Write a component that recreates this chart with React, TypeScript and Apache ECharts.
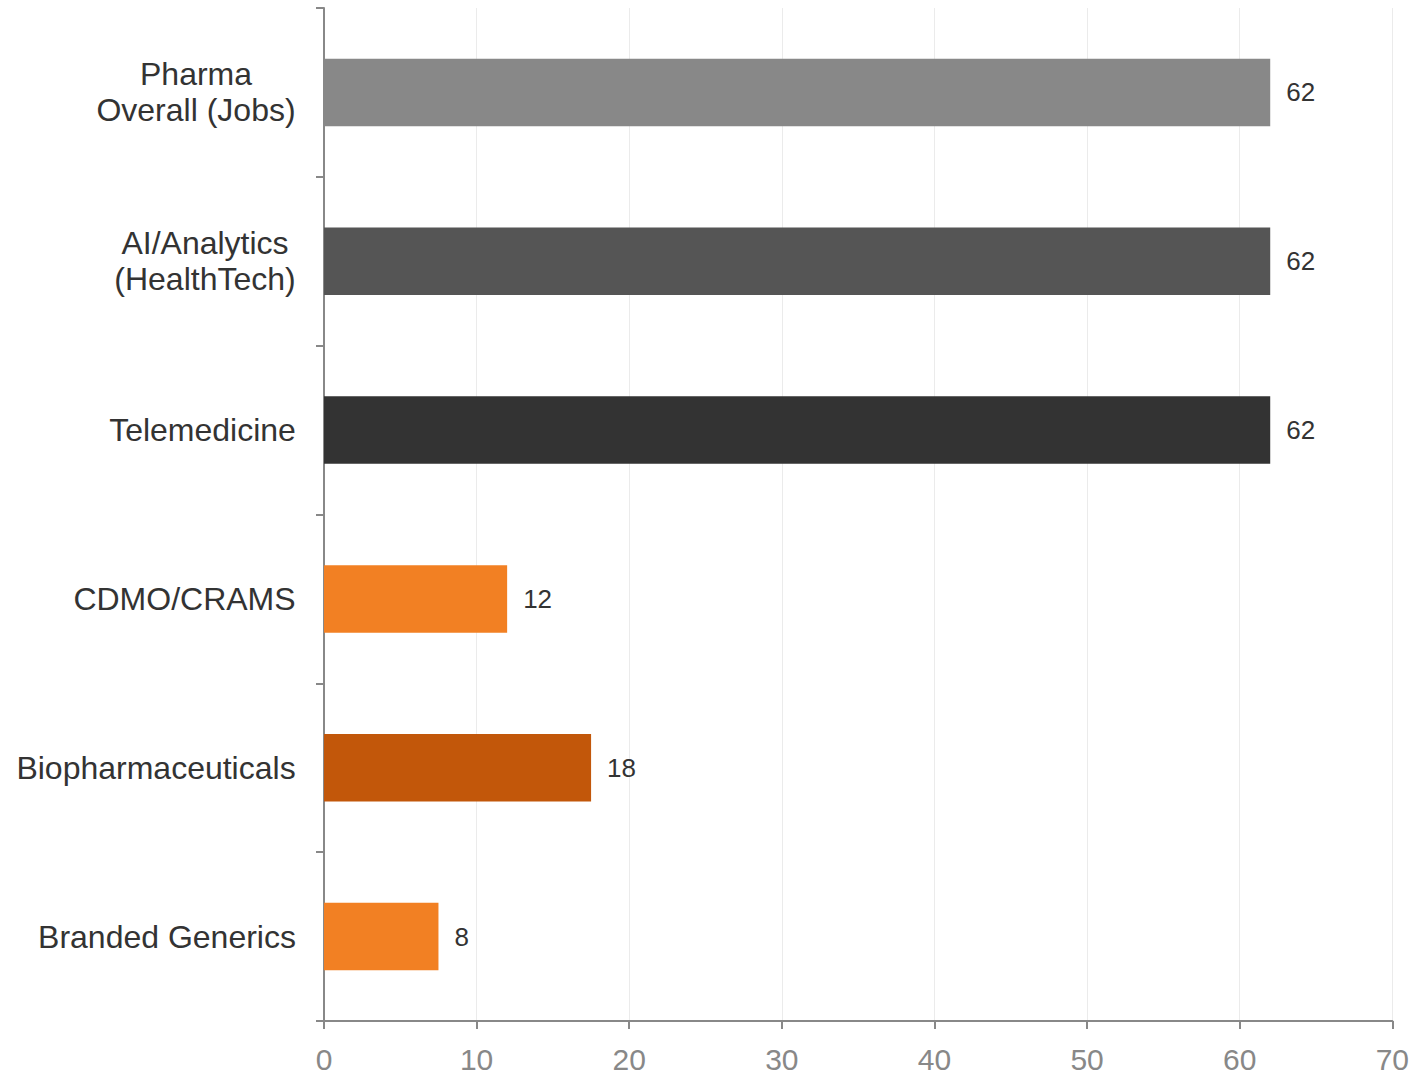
import React, { useEffect, useRef } from "react";
import * as echarts from "echarts";

const categories = [
  "Pharma\nOverall (Jobs)",
  "AI/Analytics\n(HealthTech)",
  "Telemedicine",
  "CDMO/CRAMS",
  "Biopharmaceuticals",
  "Branded Generics",
];
const values = [62, 62, 62, 12, 17.5, 7.5];
const valueLabels = ["62", "62", "62", "12", "18", "8"];
const barColors = ["#888888", "#555555", "#333333", "#F28023", "#C2570A", "#F28023"];
const xTicks = [0, 10, 20, 30, 40, 50, 60, 70];

const FONT = '"Liberation Sans", Arial, Helvetica, sans-serif';
const Y_FONT_SIZE = 32;

function measure(text: string, size: number): number {
  const c = document.createElement("canvas");
  const ctx = c.getContext("2d");
  if (!ctx) return text.length * size * 0.55;
  ctx.font = `${size}px ${FONT}`;
  return ctx.measureText(text).width;
}

export default function App() {
  const ref = useRef<HTMLDivElement>(null);
  useEffect(() => {
    if (!ref.current) return;
    const chart = echarts.init(ref.current, undefined, { renderer: "svg" });

    const rich: Record<string, any> = {};
    const styleNames: string[] = categories.map((c, i) => {
      const lines = c.split("\n");
      const w = Math.ceil(Math.max(...lines.map((l) => measure(l, Y_FONT_SIZE))));
      const name = "c" + i;
      rich[name] = {
        width: w,
        align: "center",
        fontSize: Y_FONT_SIZE,
        fontFamily: FONT,
        color: "#333333",
        lineHeight: 36,
      };
      return name;
    });

    chart.setOption({
      animation: false,
      backgroundColor: "#ffffff",
      grid: { left: 324, right: 19, top: 8, bottom: 53, containLabel: false },
      xAxis: {
        type: "value",
        min: xTicks[0],
        max: xTicks[xTicks.length - 1],
        interval: 10,
        axisLine: { show: true, lineStyle: { color: "#888888", width: 2 } },
        axisTick: { show: true, length: 8, lineStyle: { color: "#888888", width: 2 } },
        axisLabel: { color: "#888888", fontSize: 30, fontFamily: FONT, margin: 23 },
        splitLine: { show: true, lineStyle: { color: "#ebebeb", width: 1 } },
      },
      yAxis: {
        type: "category",
        inverse: true,
        data: categories,
        axisLine: { show: true, lineStyle: { color: "#888888", width: 2 } },
        axisTick: { show: true, length: 8, interval: 0, lineStyle: { color: "#888888", width: 2 } },
        axisLabel: {
          interval: 0,
          margin: 28,
          fontSize: Y_FONT_SIZE,
          fontFamily: FONT,
          color: "#333333",
          lineHeight: 36,
          formatter: (v: string) => {
            const i = categories.indexOf(v);
            const n = styleNames[i];
            return v
              .split("\n")
              .map((l) => `{${n}|${l}}`)
              .join("\n");
          },
          rich,
        },
        splitLine: { show: false },
      },
      series: [
        {
          type: "bar",
          barWidth: "40%",
          data: values.map((v, i) => ({ value: v, itemStyle: { color: barColors[i] } })),
          label: {
            show: true,
            position: "right",
            distance: 16,
            fontSize: 26,
            fontFamily: FONT,
            color: "#333333",
            formatter: (p: any) => valueLabels[p.dataIndex],
          },
        },
      ],
    });
    return () => chart.dispose();
  }, []);
  return (
    <div
      ref={ref}
      style={{ position: "fixed", left: 0, top: 0, width: 1412, height: 1074, background: "#fff" }}
    />
  );
}
